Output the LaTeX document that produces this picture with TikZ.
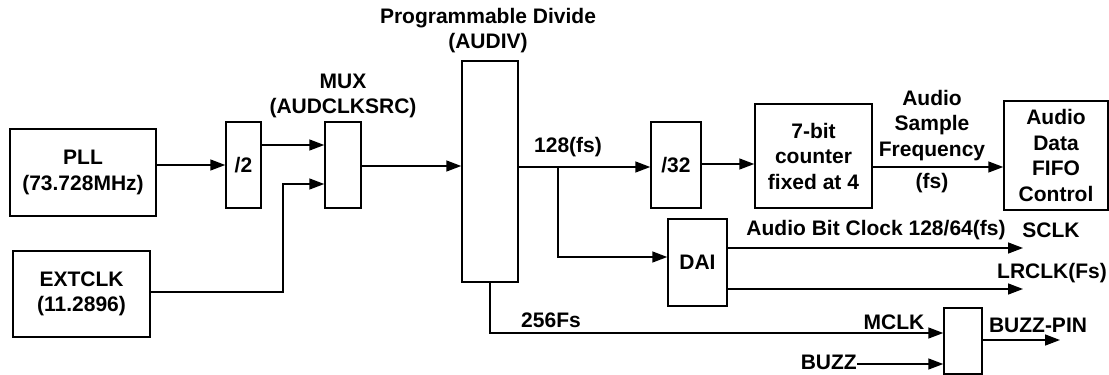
\documentclass[tikz,border=0pt]{standalone}
\usepackage{fontspec}
\setmainfont{Liberation Sans}
\usetikzlibrary{arrows.meta}
\begin{document}
\begin{tikzpicture}[x=1pt,y=-1pt,
  every node/.style={font=\fontsize{21}{25.5}\selectfont\bfseries, inner sep=0pt, align=center},
  box/.style={draw, line width=1.5pt},
  wire/.style={line width=1.5pt},
  arr/.style={wire, -{Triangle[length=15pt,width=11pt]}}]
\useasboundingbox (0,0) rectangle (1109,375);
% boxes
\node[box, minimum width=146pt, minimum height=87pt] (pll) at (83,172.5) {PLL\\(73.728MHz)};
\node[box, minimum width=137pt, minimum height=86pt] (ext) at (81.5,294) {EXTCLK\\(11.2896)};
\node[box, minimum width=35pt, minimum height=86pt] (div2) at (243.5,165) {/2};
\node[box, minimum width=36pt, minimum height=86pt] (mux) at (343,165) {};
\node[box, minimum width=56pt, minimum height=221pt] (audiv) at (490,171.5) {};
\node[box, minimum width=50pt, minimum height=86pt] (div32) at (676,165) {/32};
\node[box, minimum width=117pt, minimum height=104pt] (cnt) at (813.5,156) {7-bit\\counter\\fixed at 4};
\node[box, minimum width=104pt, minimum height=109pt] (fifo) at (1056,155.5) {Audio\\Data\\FIFO\\Control};
\node[box, minimum width=59pt, minimum height=87pt] (dai) at (697.5,262.5) {DAI};
\node[box, minimum width=38pt, minimum height=66pt] (mux2) at (963,341) {};
% labels
\node (lprog) at (488,30.5) {Programmable Divide\\(AUDIV)};
\node (lmux) at (343,96) {MUX\\(AUDCLKSRC)};
\node (l128) at (568,147) {128(fs)};
\node (l256) at (551,320) {256Fs};
\node (lasf) at (932,125.5) {Audio\\Sample\\Frequency};
\node (lfs) at (932,183) {(fs)};
\node (labc) at (876,230) {Audio Bit Clock 128/64(fs)};
\node (lsclk) at (1051,230) {SCLK};
\node (llr) at (1052,273) {LRCLK(Fs)};
\node (lmclk) at (894,322) {MCLK};
\node[anchor=east] (lbuzz) at (857,362) {BUZZ};
\node (lbp) at (1038,325) {BUZZ-PIN};
% coordinates
\coordinate (br) at (558,167);
\coordinate (ebend) at (283,292);
\coordinate (sclk) at (1023,248);
\coordinate (lrclk) at (1023,289);
\coordinate (bpin) at (1060,340);
% connectors
\draw[arr] (pll.east |- div2.west) -- (div2.west);
\draw[arr] (div2.east |- 0,145) -- (mux.west |- 0,145);
\draw[arr] (ext.east |- ebend) -- (ebend) -- (ebend |- 0,184) -- (mux.west |- 0,184);
\draw[arr] (mux.east |- 0,166) -- (audiv.west |- 0,166);
\draw[arr] (audiv.east |- br) -- (div32.west |- br);
\draw[arr] (br) -- (br |- 0,257) -- (dai.west |- 0,257);
\draw[arr] (div32.east |- 0,164) -- (cnt.west |- 0,164);
\draw[arr] (cnt.east |- 0,167) -- (fifo.west |- 0,167);
\draw[arr] (dai.east |- sclk) -- (sclk);
\draw[arr] (dai.east |- lrclk) -- (lrclk);
\draw[arr] (audiv.south) -- (audiv.south |- 0,333) -- (mux2.west |- 0,333);
\draw[arr] (lbuzz.east |- 0,364) -- (mux2.west |- 0,364);
\draw[arr] (mux2.east |- bpin) -- (bpin);
\end{tikzpicture}
\end{document}
